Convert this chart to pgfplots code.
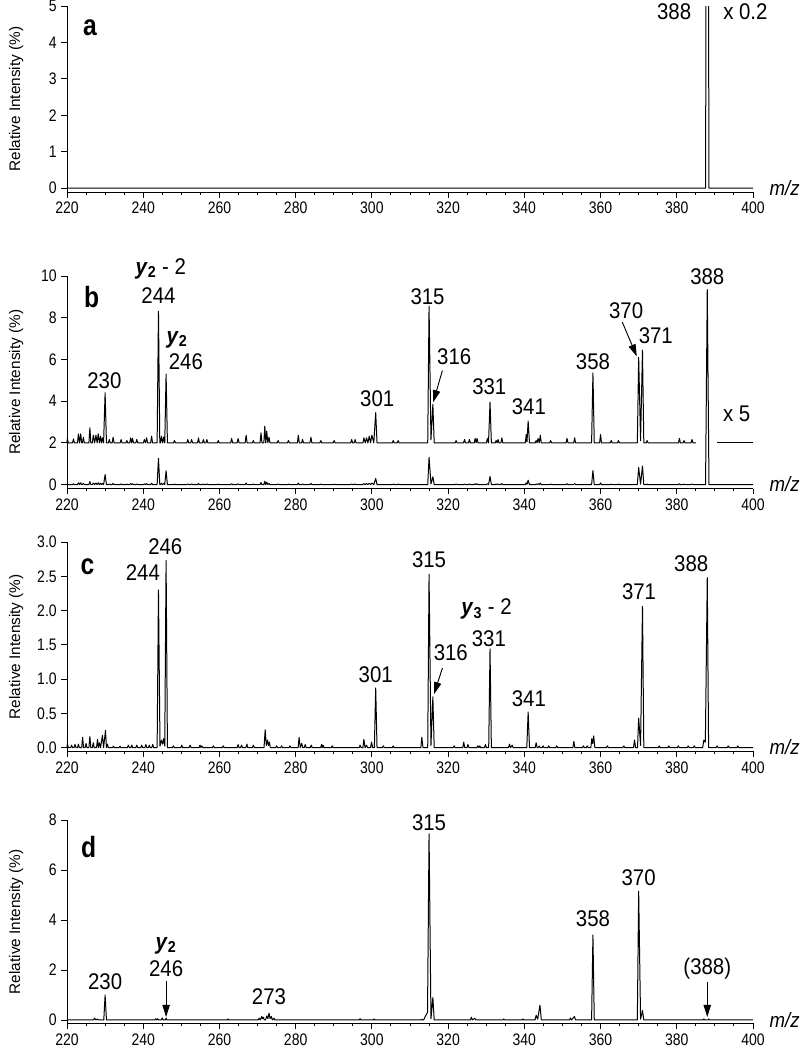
\documentclass[border=0pt]{standalone}
\usepackage{fontspec}
\usepackage{pgfplots}
\pgfplotsset{compat=1.18}
\usetikzlibrary{arrows.meta}
\setmainfont{Liberation Sans}
\newfontfamily\narrowfont{Liberation Sans}[FakeStretch=0.84]
\newfontfamily\pkfamily{Liberation Sans}[FakeStretch=0.9]
\newcommand\tickfont{\narrowfont\fontsize{12.5}{14}\selectfont}
\newcommand\pkfont{\pkfamily\fontsize{17}{18}\selectfont}
\newcommand\letfont{\narrowfont\bfseries\fontsize{22}{22}\selectfont}
\newcommand\mzfont{\pkfamily\itshape\fontsize{15.5}{16}\selectfont}
\newcommand\ylabfont{\fontsize{11.5}{12}\selectfont}
\newcommand\yy[1]{\textbf{\textit{y}}\textsubscript{\textbf{#1}}}

\pgfplotsset{
  spec/.style={
    scale only axis, width=514.5pt, xmin=220, xmax=400,
    axis lines=left, axis line style={-, line width=0.7pt},
    tick align=outside, major tick length=4.2pt, minor tick length=2.2pt,
    xtick={220,240,...,400}, minor x tick num=3,
    every tick/.style={black, line width=0.7pt},
    tick label style={font=\tickfont},
    /pgf/number format/assume math mode=true,
    clip=false,
    ylabel={Relative Intensity (\%)},
    ylabel style={font=\ylabfont, at={(axis description cs:-0.074,0.5)}, anchor=center},
  },
  trace/.style={black, line width=0.75pt, mark=none, line join=round},
}
\tikzset{
  pk/.style={font=\pkfont, inner sep=0pt, anchor=center},
  lt/.style={font=\letfont, inner sep=0pt, anchor=center},
  arr/.style={-{Triangle[length=9pt,width=5.5pt]}, line width=0.7pt},
}

\begin{document}
\begin{tikzpicture}
\path[use as bounding box] (0,0) rectangle (603pt,-787.5pt);

% ---- panel a (388 scaled x0.2, runs off the top)
\begin{axis}[spec, at={(50.25pt,-4.5pt)}, anchor=north west, height=139.5pt,
  ymin=-0.11, ymax=5, ytick={0,1,...,5}, clip=true, clip mode=individual]
\addplot[trace] coordinates {(220,0) (387.55,0) (388,20) (388.45,0) (400,0)};
\node[lt] at (axis cs:226,4.4) {a};
\node[pk] at (axis cs:379.3,4.84) {388};
\node[pk] at (axis cs:398.0,4.84) {x 0.2};
\node[font=\mzfont] at (axis cs:408.3,0) {m/z};
\end{axis}

% ---- panel b
\begin{axis}[spec, at={(50.25pt,-207pt)}, anchor=north west, height=159.4pt,
  ymin=-0.19, ymax=10, ytick={0,2,...,10}]
% x5 trace, offset by 2
\addplot[trace] coordinates {
(220,2) (220.1,2.21) (220.35,2)
(221.45,2) (221.7,2.19) (221.95,2)
(222.75,2) (223.0,2.43) (223.3,2) (223.6,2.43) (223.85,2)
(224.05,2) (224.3,2.27) (224.55,2)
(225.75,2) (226.0,2.72) (226.25,2)
(226.65,2) (226.9,2.37) (227.25,2) (227.6,2.37) (227.9,2) (228.2,2.43) (228.5,2) (228.8,2.32) (229.05,2) (229.3,2.24) (229.6,2) (230.0,4.40) (230.35,2)
(230.85,2) (231.1,2.16) (231.35,2)
(231.85,2) (232.1,2.27) (232.35,2)
(233.95,2) (234.2,2.16) (234.45,2)
(235.45,2) (235.7,2.11) (235.95,2)
(236.45,2) (236.7,2.24) (236.95,2) (237.2,2.21) (237.45,2)
(238.05,2) (238.3,2.16) (238.55,2)
(240.05,2) (240.3,2.16) (240.6,2) (240.9,2.24) (241.15,2)
(241.95,2) (242.2,2.32) (242.45,2)
(243.65,2) (244.0,8.30) (244.35,2) (244.55,2) (244.8,2.32) (245.1,2) (245.4,2.28) (245.65,2) (246.0,5.30) (246.35,2)
(247.95,2) (248.2,2.11) (248.45,2)
(251.45,2) (251.7,2.16) (251.95,2)
(252.45,2) (252.7,2.16) (252.95,2)
(254.25,2) (254.5,2.24) (254.75,2)
(255.55,2) (255.8,2.16) (256.05,2)
(256.45,2) (256.7,2.16) (256.95,2)
(259.45,2) (259.7,2.11) (259.95,2)
(262.95,2) (263.2,2.21) (263.45,2)
(264.65,2) (264.9,2.21) (265.15,2)
(266.75,2) (267.0,2.37) (267.25,2)
(268.65,2) (268.9,2.11) (269.15,2)
(270.65,2) (270.9,2.48) (271.15,2)
(271.65,2) (271.9,2.80) (272.15,2) (272.4,2.56) (272.7,2) (273.0,2.27) (273.25,2)
(275.15,2) (275.4,2.11) (275.65,2)
(277.85,2) (278.1,2.11) (278.35,2)
(280.45,2) (280.7,2.37) (280.95,2)
(281.55,2) (281.8,2.16) (282.05,2)
(283.75,2) (284.0,2.27) (284.25,2)
(286.35,2) (286.6,2.11) (286.85,2)
(289.85,2) (290.1,2.11) (290.35,2)
(294.45,2) (294.7,2.16) (294.95,2)
(295.35,2) (295.6,2.16) (295.85,2)
(297.65,2) (297.9,2.24) (298.25,2) (298.6,2.24) (298.95,2) (299.3,2.32) (299.65,2) (300.0,2.37) (300.5,2) (301.0,3.45) (301.35,2)
(305.35,2) (305.6,2.11) (305.85,2)
(306.65,2) (306.9,2.11) (307.15,2)
(314.65,2) (315.0,8.55) (315.5,2.15) (316.0,3.85) (316.35,2)
(321.85,2) (322.1,2.11) (322.35,2)
(324.05,2) (324.3,2.16) (324.55,2)
(325.35,2) (325.6,2.16) (325.85,2)
(326.85,2) (327.1,2.21) (327.35,2) (327.6,2.21) (327.85,2)
(330.05,2) (330.3,2.21) (330.6,2) (331.0,3.95) (331.35,2)
(332.35,2) (332.6,2.11) (332.85,2) (333.1,2.16) (333.35,2)
(333.85,2) (334.1,2.24) (334.35,2)
(340.25,2) (340.5,2.40) (340.7,2.05) (341.0,3.05) (341.35,2)
(342.85,2) (343.1,2.11) (343.35,2) (343.6,2.21) (343.9,2) (344.2,2.37) (344.45,2)
(346.65,2) (346.9,2.11) (347.15,2)
(350.95,2) (351.2,2.21) (351.45,2)
(352.95,2) (353.2,2.24) (353.45,2)
(357.65,2) (358.0,5.35) (358.35,2)
(359.75,2) (360.0,2.40) (360.25,2)
(362.55,2) (362.8,2.11) (363.05,2)
(364.45,2) (364.7,2.11) (364.95,2)
(369.65,2) (370.0,6.10) (370.5,2.1) (371.0,6.45) (371.35,2)
(371.95,2) (372.2,2.11) (372.45,2)
(380.45,2) (380.7,2.21) (380.95,2)
(381.65,2) (381.9,2.11) (382.15,2)
(383.75,2) (384.0,2.16) (384.25,2)
(385.0,2)};
\addplot[trace] coordinates {(390.6,2) (400,2)};
% unscaled trace
\addplot[trace] coordinates {
(220,0) (220.1,0.042) (220.35,0)
(221.45,0) (221.7,0.038) (221.95,0)
(222.75,0) (223.0,0.086) (223.3,0) (223.6,0.086) (223.85,0)
(224.05,0) (224.3,0.054) (224.55,0)
(225.75,0) (226.0,0.144) (226.25,0)
(226.65,0) (226.9,0.074) (227.25,0) (227.6,0.074) (227.9,0) (228.2,0.086) (228.5,0) (228.8,0.064) (229.05,0) (229.3,0.048) (229.6,0) (230.0,0.48) (230.35,0)
(230.85,0) (231.1,0.032) (231.35,0)
(231.85,0) (232.1,0.054) (232.35,0)
(233.95,0) (234.2,0.032) (234.45,0)
(235.45,0) (235.7,0.022) (235.95,0)
(236.45,0) (236.7,0.048) (236.95,0) (237.2,0.042) (237.45,0)
(238.05,0) (238.3,0.032) (238.55,0)
(240.05,0) (240.3,0.032) (240.6,0) (240.9,0.048) (241.15,0)
(241.95,0) (242.2,0.064) (242.45,0)
(243.65,0) (244.0,1.26) (244.35,0) (244.55,0) (244.8,0.064) (245.1,0) (245.4,0.056) (245.65,0) (246.0,0.66) (246.35,0)
(247.95,0) (248.2,0.022) (248.45,0)
(251.45,0) (251.7,0.032) (251.95,0)
(252.45,0) (252.7,0.032) (252.95,0)
(254.25,0) (254.5,0.048) (254.75,0)
(255.55,0) (255.8,0.032) (256.05,0)
(256.45,0) (256.7,0.032) (256.95,0)
(259.45,0) (259.7,0.022) (259.95,0)
(262.95,0) (263.2,0.042) (263.45,0)
(264.65,0) (264.9,0.042) (265.15,0)
(266.75,0) (267.0,0.074) (267.25,0)
(268.65,0) (268.9,0.022) (269.15,0)
(270.65,0) (270.9,0.096) (271.15,0)
(271.65,0) (271.9,0.16) (272.15,0) (272.4,0.112) (272.7,0) (273.0,0.054) (273.25,0)
(275.15,0) (275.4,0.022) (275.65,0)
(277.85,0) (278.1,0.022) (278.35,0)
(280.45,0) (280.7,0.074) (280.95,0)
(281.55,0) (281.8,0.032) (282.05,0)
(283.75,0) (284.0,0.054) (284.25,0)
(286.35,0) (286.6,0.022) (286.85,0)
(289.85,0) (290.1,0.022) (290.35,0)
(294.45,0) (294.7,0.032) (294.95,0)
(295.35,0) (295.6,0.032) (295.85,0)
(297.65,0) (297.9,0.048) (298.25,0) (298.6,0.048) (298.95,0) (299.3,0.064) (299.65,0) (300.0,0.074) (300.5,0) (301.0,0.29) (301.35,0)
(305.35,0) (305.6,0.022) (305.85,0)
(306.65,0) (306.9,0.022) (307.15,0)
(314.65,0) (315.0,1.31) (315.5,0.03) (316.0,0.37) (316.35,0)
(321.85,0) (322.1,0.022) (322.35,0)
(324.05,0) (324.3,0.032) (324.55,0)
(325.35,0) (325.6,0.032) (325.85,0)
(326.85,0) (327.1,0.042) (327.35,0) (327.6,0.042) (327.85,0)
(330.05,0) (330.3,0.042) (330.6,0) (331.0,0.39) (331.35,0)
(332.35,0) (332.6,0.022) (332.85,0) (333.1,0.032) (333.35,0)
(333.85,0) (334.1,0.048) (334.35,0)
(340.25,0) (340.5,0.08) (340.7,0.01) (341.0,0.21) (341.35,0)
(342.85,0) (343.1,0.022) (343.35,0) (343.6,0.042) (343.9,0) (344.2,0.074) (344.45,0)
(346.65,0) (346.9,0.022) (347.15,0)
(350.95,0) (351.2,0.042) (351.45,0)
(352.95,0) (353.2,0.048) (353.45,0)
(357.65,0) (358.0,0.67) (358.35,0)
(359.75,0) (360.0,0.08) (360.25,0)
(362.55,0) (362.8,0.022) (363.05,0)
(364.45,0) (364.7,0.022) (364.95,0)
(369.65,0) (370.0,0.82) (370.5,0.02) (371.0,0.89) (371.35,0)
(371.95,0) (372.2,0.022) (372.45,0)
(380.45,0) (380.7,0.042) (380.95,0)
(381.65,0) (381.9,0.022) (382.15,0)
(383.75,0) (384.0,0.032) (384.25,0)
(387.55,0) (388.0,9.35) (388.45,0) (400,0)};
\node[lt] at (axis cs:226.5,9.0) {b};
\node[pk] at (axis cs:244.6,10.35) {\yy{2} - 2};
\node[pk] at (axis cs:244,9.04) {244};
\node[pk] at (axis cs:248.9,6.94) {\yy{2}};
\node[pk] at (axis cs:251.2,5.9) {246};
\node[pk] at (axis cs:229.8,4.99) {230};
\node[pk] at (axis cs:301.4,4.14) {301};
\node[pk] at (axis cs:314.6,9.02) {315};
\node[pk] at (axis cs:321.6,6.14) {316};
\draw[arr] (axis cs:318.5,5.47) -- (axis cs:316.1,3.95);
\node[pk] at (axis cs:330.8,4.7) {331};
\node[pk] at (axis cs:341.2,3.74) {341};
\node[pk] at (axis cs:358,5.9) {358};
\node[pk] at (axis cs:366.7,8.35) {370};
\draw[arr] (axis cs:365.7,7.79) -- (axis cs:369.5,6.15);
\node[pk] at (axis cs:374.5,7.15) {371};
\node[pk] at (axis cs:388,9.98) {388};
\node[pk] at (axis cs:395.7,3.39) {x 5};
\node[font=\mzfont] at (axis cs:408.3,0) {m/z};
\end{axis}

% ---- panel c
\begin{axis}[spec, at={(50.25pt,-406.5pt)}, anchor=north west, height=157pt,
  ymin=-0.055, ymax=3, ytick={0,0.5,...,3},
  yticklabel style={/pgf/number format/.cd, fixed, fixed zerofill, precision=1}]
\addplot[trace] coordinates {
(220,0) (220.1,0.06) (220.35,0)
(220.95,0) (221.2,0.035) (221.45,0)
(221.85,0) (222.1,0.045) (222.35,0)
(222.75,0) (223.0,0.05) (223.25,0)
(223.85,0) (224.1,0.15) (224.35,0)
(224.75,0) (225.0,0.06) (225.25,0)
(225.75,0) (226.0,0.16) (226.25,0)
(226.65,0) (226.9,0.07) (227.15,0)
(227.75,0) (228.0,0.12) (228.25,0) (228.5,0.07) (228.8,0) (229.3,0.18) (229.6,0) (230.1,0.25) (230.35,0) (230.6,0.05) (230.85,0)
(231.95,0) (232.2,0.02) (232.45,0)
(233.65,0) (233.9,0.02) (234.15,0)
(235.85,0) (236.1,0.035) (236.35,0)
(236.75,0) (237.0,0.035) (237.25,0)
(238.05,0) (238.3,0.035) (238.55,0)
(239.35,0) (239.6,0.035) (239.85,0)
(240.45,0) (240.7,0.045) (240.95,0)
(241.35,0) (241.6,0.035) (241.85,0)
(242.25,0) (242.5,0.045) (242.75,0)
(243.65,0) (244.0,2.30) (244.4,0.02) (244.8,0.11) (245.1,0.05) (245.4,0.13) (245.65,0.02) (246.0,2.73) (246.35,0)
(247.65,0) (247.9,0.025) (248.15,0)
(249.85,0) (250.1,0.035) (250.35,0)
(252.05,0) (252.3,0.035) (252.55,0)
(254.65,0) (254.9,0.035) (255.15,0) (255.4,0.025) (255.65,0)
(258.15,0) (258.4,0.025) (258.65,0)
(260.75,0) (261.0,0.025) (261.25,0)
(264.65,0) (264.9,0.045) (265.15,0)
(265.55,0) (265.8,0.035) (266.05,0)
(266.95,0) (267.2,0.05) (267.45,0)
(268.65,0) (268.9,0.035) (269.15,0)
(271.7,0) (272.0,0.26) (272.3,0.03) (272.6,0.11) (272.85,0.03) (273.1,0.08) (273.35,0)
(274.75,0) (275.0,0.025) (275.25,0)
(276.05,0) (276.3,0.025) (276.55,0)
(278.25,0) (278.5,0.025) (278.75,0)
(280.65,0) (280.9,0.15) (281.2,0) (281.6,0.06) (281.85,0)
(282.25,0) (282.5,0.045) (282.75,0)
(283.85,0) (284.1,0.035) (284.35,0)
(286.55,0) (286.8,0.045) (287.0,0) (287.2,0.035) (287.45,0)
(289.35,0) (289.6,0.025) (289.85,0)
(296.65,0) (296.9,0.035) (297.15,0)
(297.65,0) (297.9,0.12) (298.2,0) (298.6,0.035) (298.85,0)
(299.65,0) (299.9,0.08) (300.2,0) (300.65,0) (301.0,0.87) (301.35,0)
(302.75,0) (303.0,0.025) (303.25,0)
(305.35,0) (305.6,0.025) (305.85,0)
(312.85,0) (313.1,0.15) (313.4,0)
(314.65,0) (315.0,2.53) (315.5,0.03) (316.0,0.74) (316.35,0)
(321.35,0) (321.6,0.025) (321.85,0)
(323.85,0) (324.1,0.08) (324.35,0)
(324.95,0) (325.2,0.045) (325.45,0)
(327.55,0) (327.8,0.025) (328.05,0) (328.3,0.025) (328.55,0)
(329.55,0) (329.8,0.045) (330.05,0)
(330.65,0) (331.0,1.44) (331.35,0)
(335.85,0) (336.1,0.05) (336.4,0) (336.8,0.035) (337.05,0)
(340.65,0) (341.0,0.52) (341.35,0)
(342.85,0) (343.1,0.07) (343.35,0)
(343.65,0) (343.9,0.025) (344.15,0)
(344.65,0) (344.9,0.025) (345.15,0)
(346.15,0) (346.4,0.025) (346.65,0)
(348.25,0) (348.5,0.025) (348.75,0)
(352.75,0) (353.0,0.09) (353.25,0)
(355.25,0) (355.5,0.025) (355.75,0)
(356.25,0) (356.5,0.025) (356.75,0)
(357.45,0) (357.7,0.13) (357.95,0.06) (358.2,0.17) (358.5,0)
(361.55,0) (361.8,0.025) (362.05,0)
(365.85,0) (366.1,0.025) (366.35,0)
(368.65,0) (368.9,0.11) (369.2,0) (369.7,0) (370.0,0.43) (370.5,0.03) (371.0,2.06) (371.35,0)
(375.15,0) (375.4,0.025) (375.65,0)
(377.65,0) (377.9,0.025) (378.15,0)
(380.15,0) (380.4,0.025) (380.65,0)
(382.75,0) (383.0,0.025) (383.25,0)
(384.35,0) (384.6,0.025) (384.85,0)
(386.8,0) (387.1,0.11) (387.5,0.08) (388.0,2.48) (388.35,0)
(390.35,0) (390.6,0.025) (390.85,0)
(393.25,0) (393.5,0.025) (393.75,0)
(395.75,0) (396.0,0.025) (396.25,0)
(400,0)};
\node[lt] at (axis cs:225.4,2.64) {c};
\node[pk] at (axis cs:245.8,2.93) {246};
\node[pk] at (axis cs:239.9,2.56) {244};
\node[pk] at (axis cs:315,2.74) {315};
\node[pk] at (axis cs:383.8,2.69) {388};
\node[pk] at (axis cs:370.1,2.27) {371};
\node[pk] at (axis cs:330.1,2.02) {\yy{3} - 2};
\node[pk] at (axis cs:330.7,1.59) {331};
\node[pk] at (axis cs:320.7,1.38) {316};
\draw[arr] (axis cs:318.5,1.16) -- (axis cs:316.3,0.78);
\node[pk] at (axis cs:301,1.06) {301};
\node[pk] at (axis cs:341.2,0.72) {341};
\node[font=\mzfont] at (axis cs:408.3,0) {m/z};
\end{axis}

% ---- panel d
\begin{axis}[spec, at={(50.25pt,-615pt)}, anchor=north west, height=152.6pt,
  ymin=-0.14, ymax=8, ytick={0,2,...,8}]
\addplot[trace] coordinates {
(220,0) (226.95,0) (227.2,0.07) (227.6,0) (228.0,0.04) (228.25,0)
(229.65,0) (230.0,1.0) (230.35,0)
(243.05,0) (243.3,0.05) (243.55,0) (243.8,0.05) (244.05,0)
(244.75,0) (245.0,0.08) (245.25,0)
(245.75,0) (246.0,0.07) (246.25,0)
(261.95,0) (262.2,0.04) (262.45,0)
(270.15,0) (270.4,0.07) (270.7,0) (271.1,0.14) (271.3,0.05) (271.5,0.11) (271.8,0)
(272.1,0) (272.4,0.16) (272.7,0.05) (273.0,0.27) (273.3,0.05) (273.6,0.14) (273.9,0) (274.3,0.07) (274.55,0)
(296.65,0) (296.9,0.05) (297.15,0)
(300.35,0) (300.6,0.04) (300.85,0)
(312.85,0) (313.1,0.03) (313.35,0)
(313.6,0) (314.0,0.14) (314.6,0.3) (315.0,7.45) (315.5,0.05) (316.0,0.9) (316.35,0)
(325.85,0) (326.1,0.11) (326.4,0) (327.0,0.07) (327.25,0)
(334.35,0) (334.6,0.04) (334.85,0)
(339.35,0) (339.6,0.04) (339.85,0)
(342.8,0) (343.1,0.19) (343.5,0.03) (344.1,0.59) (344.45,0)
(351.85,0) (352.1,0.08) (352.4,0) (353.15,0.14) (353.45,0)
(357.65,0) (358.0,3.40) (358.35,0)
(369.65,0) (370.0,5.15) (370.5,0.03) (371.0,0.38) (371.35,0)
(386.85,0) (387.1,0.04) (387.35,0)
(388.15,0) (388.4,0.04) (388.65,0)
(400,0)};
\node[lt] at (axis cs:225.7,6.9) {d};
\node[pk] at (axis cs:315,7.9) {315};
\node[pk] at (axis cs:370,5.69) {370};
\node[pk] at (axis cs:358,4.05) {358};
\node[pk] at (axis cs:246,2.97) {\yy{2}};
\node[pk] at (axis cs:246,2.05) {246};
\draw[arr] (axis cs:246,1.55) -- (axis cs:246,0.12);
\node[pk] at (axis cs:230,1.55) {230};
\node[pk] at (axis cs:273,0.95) {273};
\node[pk] at (axis cs:388,2.05) {(388)};
\draw[arr] (axis cs:388,1.5) -- (axis cs:388,0.12);
\node[font=\mzfont] at (axis cs:408.3,0) {m/z};
\end{axis}
\end{tikzpicture}
\end{document}
